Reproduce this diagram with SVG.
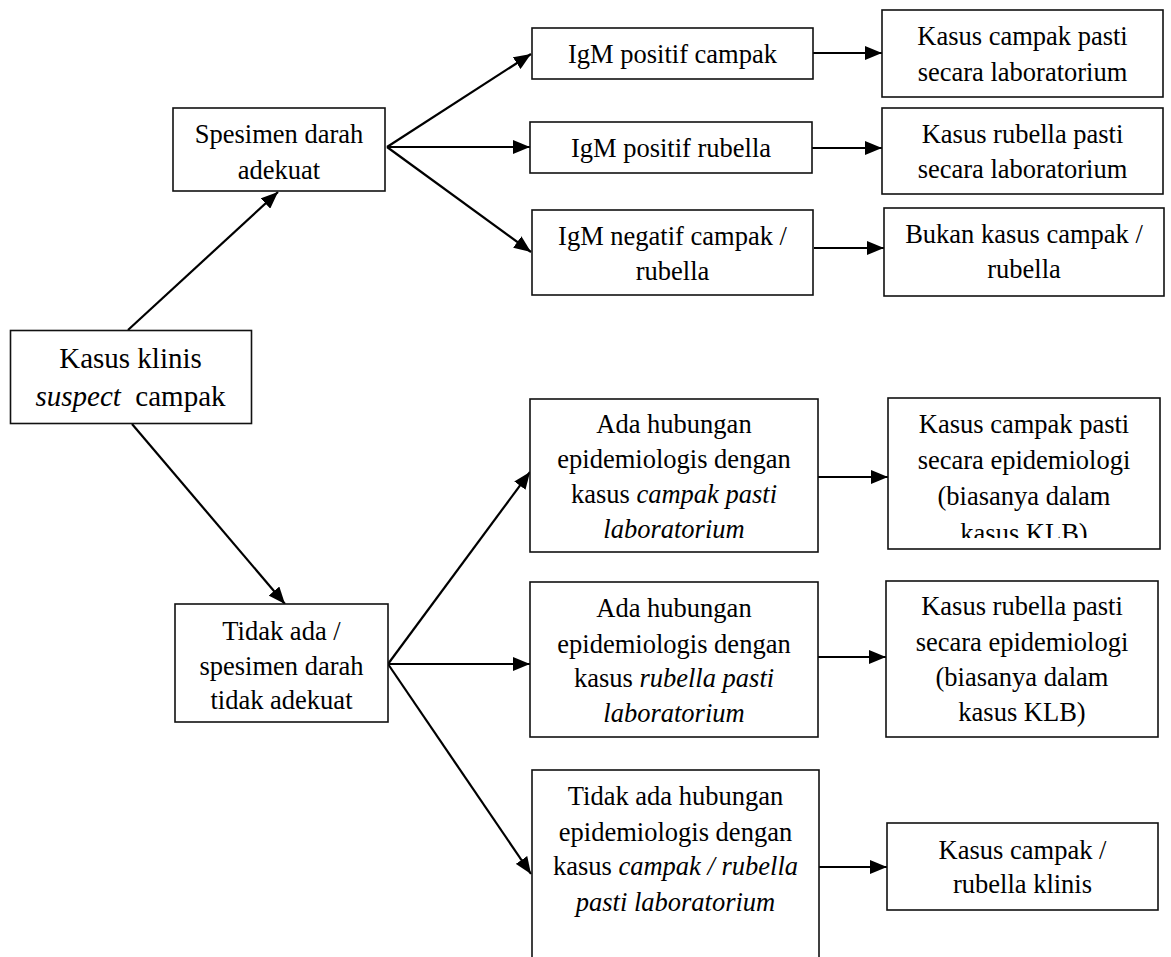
<svg xmlns="http://www.w3.org/2000/svg" width="1171" height="957" viewBox="0 0 1171 957">
<style>
  .box { fill: #ffffff; stroke: #111111; stroke-width: 1.6; }
  .t { font-family: "Liberation Serif", "Times New Roman", serif; font-size: 26.5px; fill: #000000; text-anchor: middle; }
  .big { font-size: 29px; }
  .i { font-style: italic; }
  .conn { stroke: #000000; stroke-width: 2.2; fill: none; marker-end: url(#arr); }
</style>
<defs>
  <marker id="arr" markerUnits="userSpaceOnUse" markerWidth="17" markerHeight="14" refX="17" refY="7" orient="auto">
    <path d="M0,0 L17,7 L0,14 Z" fill="#000000"/>
  </marker>
  <clipPath id="clipKLB">
    <rect x="888" y="398" width="272" height="140"/>
  </clipPath>
</defs>
<rect width="1171" height="957" fill="#ffffff"/>

<g id="connectors">
  <line class="conn" x1="128" y1="330" x2="278" y2="192"/>
  <line class="conn" x1="132" y1="424" x2="285" y2="604"/>
  <line class="conn" x1="387" y1="147" x2="531" y2="54"/>
  <line class="conn" x1="387" y1="147" x2="530" y2="147"/>
  <line class="conn" x1="387" y1="147" x2="531" y2="252"/>
  <line class="conn" x1="813" y1="53" x2="882" y2="53"/>
  <line class="conn" x1="812" y1="148" x2="882" y2="148"/>
  <line class="conn" x1="814" y1="248" x2="884" y2="248"/>
  <line class="conn" x1="388" y1="664" x2="530" y2="472"/>
  <line class="conn" x1="388" y1="664" x2="530" y2="664"/>
  <line class="conn" x1="388" y1="664" x2="531" y2="874"/>
  <line class="conn" x1="818" y1="477" x2="888" y2="477"/>
  <line class="conn" x1="818" y1="657" x2="886" y2="657"/>
  <line class="conn" x1="819" y1="867" x2="887" y2="867"/>
</g>

<g id="kasus-klinis">
  <rect class="box" x="10.5" y="330.5" width="241" height="93"/>
  <text class="t big" x="130.5" y="368">Kasus klinis</text>
  <text class="t big" x="130.5" y="406"><tspan class="i">suspect</tspan>&#160; campak</text>
</g>

<g id="spesimen-adekuat">
  <rect class="box" x="173" y="108" width="212" height="83"/>
  <text class="t" x="279" y="143">Spesimen darah</text>
  <text class="t" x="279" y="179">adekuat</text>
</g>

<g id="tidak-adekuat">
  <rect class="box" x="175" y="604" width="213" height="118"/>
  <text class="t" x="281.5" y="640">Tidak ada /</text>
  <text class="t" x="281.5" y="675">spesimen darah</text>
  <text class="t" x="281.5" y="709">tidak adekuat</text>
</g>

<g id="igm-pos-campak">
  <rect class="box" x="532" y="28" width="281" height="51"/>
  <text class="t" x="672.5" y="63">IgM positif campak</text>
</g>

<g id="igm-pos-rubella">
  <rect class="box" x="530" y="122" width="282" height="51"/>
  <text class="t" x="671" y="157">IgM positif rubella</text>
</g>

<g id="igm-neg">
  <rect class="box" x="532" y="210" width="281" height="85"/>
  <text class="t" x="672.5" y="245">IgM negatif campak /</text>
  <text class="t" x="672.5" y="280">rubella</text>
</g>

<g id="pasti-lab-campak">
  <rect class="box" x="882" y="10" width="281" height="87"/>
  <text class="t" x="1022.5" y="45">Kasus campak pasti</text>
  <text class="t" x="1022.5" y="81">secara laboratorium</text>
</g>

<g id="pasti-lab-rubella">
  <rect class="box" x="882" y="108" width="281" height="86"/>
  <text class="t" x="1022.5" y="143">Kasus rubella pasti</text>
  <text class="t" x="1022.5" y="178">secara laboratorium</text>
</g>

<g id="bukan-kasus">
  <rect class="box" x="884" y="208" width="280" height="88"/>
  <text class="t" x="1024" y="243">Bukan kasus campak /</text>
  <text class="t" x="1024" y="278">rubella</text>
</g>

<g id="epi-campak">
  <rect class="box" x="530" y="399" width="288" height="153"/>
  <text class="t" x="674" y="433">Ada hubungan</text>
  <text class="t" x="674" y="468">epidemiologis dengan</text>
  <text class="t" x="674" y="503">kasus <tspan class="i">campak pasti</tspan></text>
  <text class="t i" x="674" y="538">laboratorium</text>
</g>

<g id="epi-rubella">
  <rect class="box" x="530" y="582" width="288" height="155"/>
  <text class="t" x="674" y="617">Ada hubungan</text>
  <text class="t" x="674" y="653">epidemiologis dengan</text>
  <text class="t" x="674" y="687">kasus <tspan class="i">rubella pasti</tspan></text>
  <text class="t i" x="674" y="722">laboratorium</text>
</g>

<g id="tidak-epi">
  <rect class="box" x="532" y="770" width="287" height="210"/>
  <text class="t" x="675.5" y="805">Tidak ada hubungan</text>
  <text class="t" x="675.5" y="841">epidemiologis dengan</text>
  <text class="t" x="675.5" y="875">kasus <tspan class="i">campak / rubella</tspan></text>
  <text class="t i" x="675.5" y="911">pasti laboratorium</text>
</g>

<g id="pasti-epi-campak">
  <rect class="box" x="888" y="398" width="272" height="151"/>
  <g clip-path="url(#clipKLB)">
    <text class="t" x="1024" y="433">Kasus campak pasti</text>
    <text class="t" x="1024" y="469">secara epidemiologi</text>
    <text class="t" x="1024" y="505">(biasanya dalam</text>
    <text class="t" x="1024" y="542">kasus KLB)</text>
  </g>
</g>

<g id="pasti-epi-rubella">
  <rect class="box" x="886" y="581" width="272" height="156"/>
  <text class="t" x="1022" y="615">Kasus rubella pasti</text>
  <text class="t" x="1022" y="651">secara epidemiologi</text>
  <text class="t" x="1022" y="686">(biasanya dalam</text>
  <text class="t" x="1022" y="721">kasus KLB)</text>
</g>

<g id="klinis">
  <rect class="box" x="887" y="823" width="271" height="87"/>
  <text class="t" x="1022.5" y="859">Kasus campak /</text>
  <text class="t" x="1022.5" y="893">rubella klinis</text>
</g>
</svg>
